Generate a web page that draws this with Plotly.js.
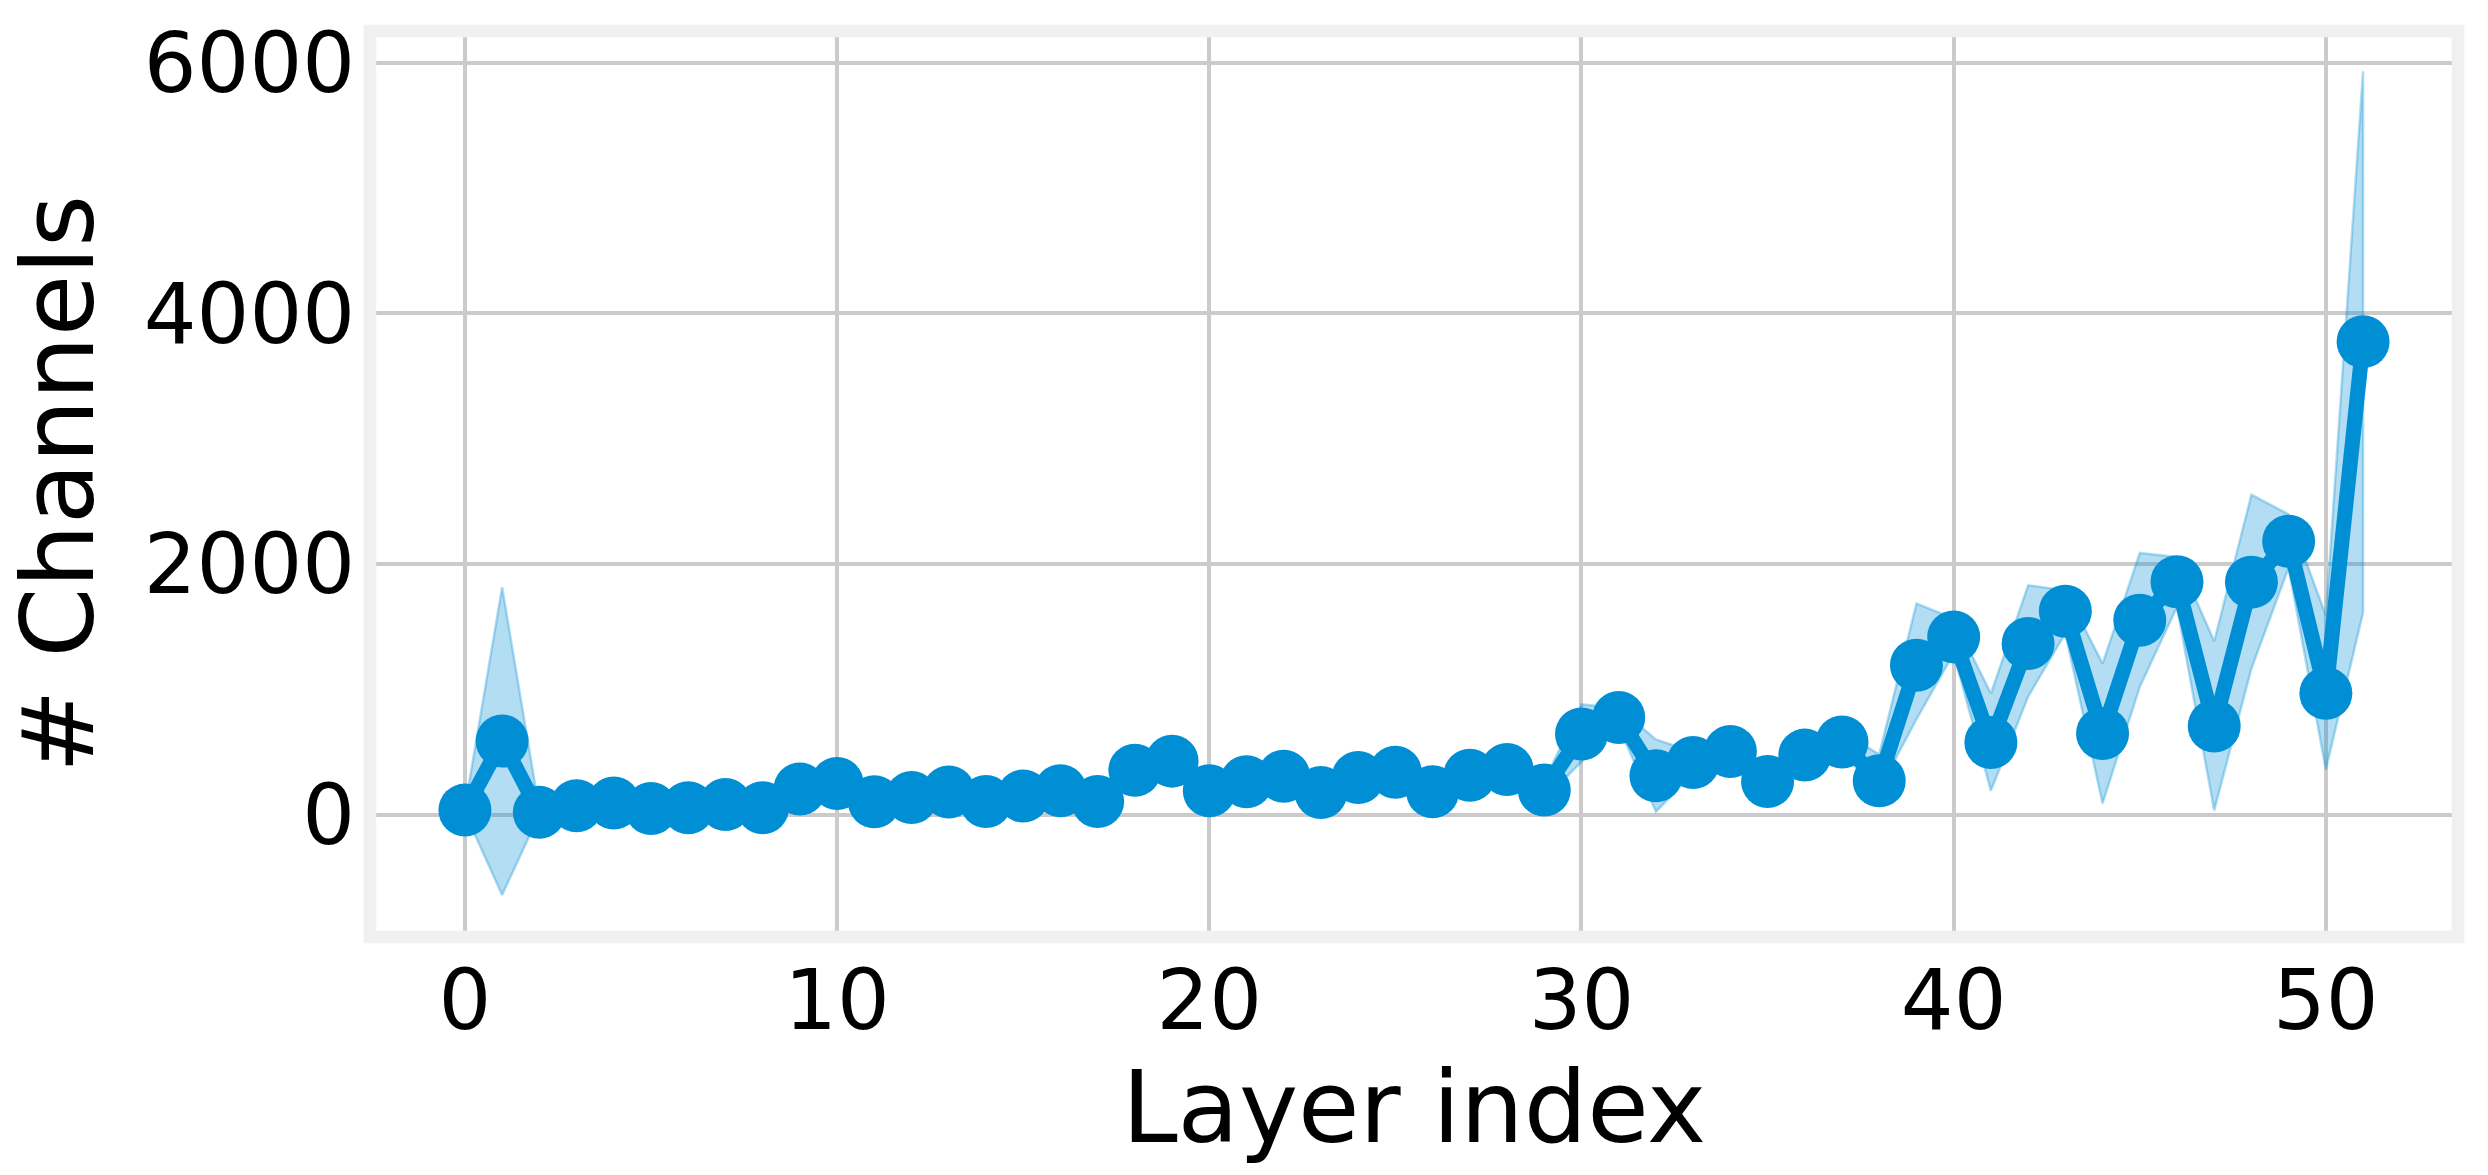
<!DOCTYPE html>
<html>
<head>
<meta charset="utf-8">
<script src="https://cdn.plot.ly/plotly-3.0.1.min.js"></script>
<style>
html, body { margin: 0; padding: 0; background: #ffffff; }
#chart { width: 2488px; height: 1175px; }
</style>
</head>
<body>
<div id="chart"></div>
<script>
// Layer indices
const layerIndex = [0,1,2,3,4,5,6,7,8,9,10,11,12,13,14,15,16,17,18,19,20,21,22,23,24,25,
  26,27,28,29,30,31,32,33,34,35,36,37,38,39,40,41,42,43,44,45,46,47,48,49,50,51];
// Mean number of channels per layer
const channelsMean = [35,586,17,70,91,48,54,80,54,203,248,102,136,179,104,147,189,104,354,426,
  189,261,306,176,296,338,181,314,360,195,642,775,309,415,503,264,474,578,269,1192,
  1418,575,1365,1623,647,1551,1858,706,1855,2181,967,3775];
// Lower edge of the shaded band
const channelsLow = [15,-643,0,40,60,20,25,50,25,160,200,70,100,140,70,110,150,70,300,370,
  150,220,260,140,250,290,140,270,310,120,420,700,22,330,420,200,400,480,200,760,
  1285,189,940,1447,88,1019,1657,32,1164,1970,358,1612];
// Upper edge of the shaded band
const channelsHigh = [55,1815,40,100,120,75,85,110,85,245,295,135,170,220,140,185,230,140,410,480,
  230,300,350,215,340,385,220,360,410,270,880,850,599,500,590,330,550,660,480,1685,
  1565,966,1830,1790,1205,2088,2056,1383,2553,2396,1590,5933];
// Axis tick values
const xTicks = [0,10,20,30,40,50];
const yTicks = [0,2000,4000,6000];

const mainColor = '#008fd5';
const bandColor = 'rgba(0,143,213,0.3)';

// closed polygon for band: upper forward, lower reversed
const bandX = layerIndex.concat(layerIndex.slice().reverse());
const bandY = channelsHigh.concat(channelsLow.slice().reverse());

const traces = [
  {
    x: bandX, y: bandY, type: 'scatter', mode: 'lines',
    fill: 'toself', fillcolor: bandColor,
    line: {color: bandColor, width: 2.5},
    hoverinfo: 'skip', showlegend: false
  },
  {
    x: layerIndex, y: channelsMean, type: 'scatter', mode: 'lines+markers',
    line: {color: mainColor, width: 15},
    marker: {color: mainColor, size: 53},
    showlegend: false
  }
];

const font = 'DejaVu Sans, sans-serif';

const layout = {
  width: 2488, height: 1175,
  paper_bgcolor: '#ffffff', plot_bgcolor: '#ffffff',
  margin: {l: 370, r: 30, t: 30.5, b: 238, pad: 0},
  showlegend: false,
  xaxis: {
    range: [-2.55, 53.55],
    tickvals: xTicks,
    ticktext: xTicks.map(String),
    showgrid: true, gridcolor: '#cbcbcb', gridwidth: 4,
    zeroline: false, showline: false, ticks: '',
    ticklabelstandoff: 8,
    tickfont: {family: font, size: 83, color: '#000000'},
    title: {text: 'Layer index', font: {family: font, size: 100, color: '#000000'}, standoff: 10}
  },
  yaxis: {
    range: [-978, 6255],
    tickvals: yTicks,
    ticktext: yTicks.map(String),
    showgrid: true, gridcolor: '#cbcbcb', gridwidth: 4,
    zeroline: false, showline: false, ticks: '',
    ticklabelstandoff: 14,
    tickfont: {family: font, size: 83, color: '#000000'},
    title: {text: '# Channels', font: {family: font, size: 100, color: '#000000'}, standoff: 20}
  },
  shapes: [{
    type: 'rect', xref: 'paper', yref: 'paper', x0: 0, x1: 1, y0: 0, y1: 1,
    line: {color: '#f0f0f0', width: 12.5}, fillcolor: 'rgba(0,0,0,0)', layer: 'above'
  }]
};

Plotly.newPlot('chart', traces, layout, {staticPlot: true, displayModeBar: false});
</script>
</body>
</html>
